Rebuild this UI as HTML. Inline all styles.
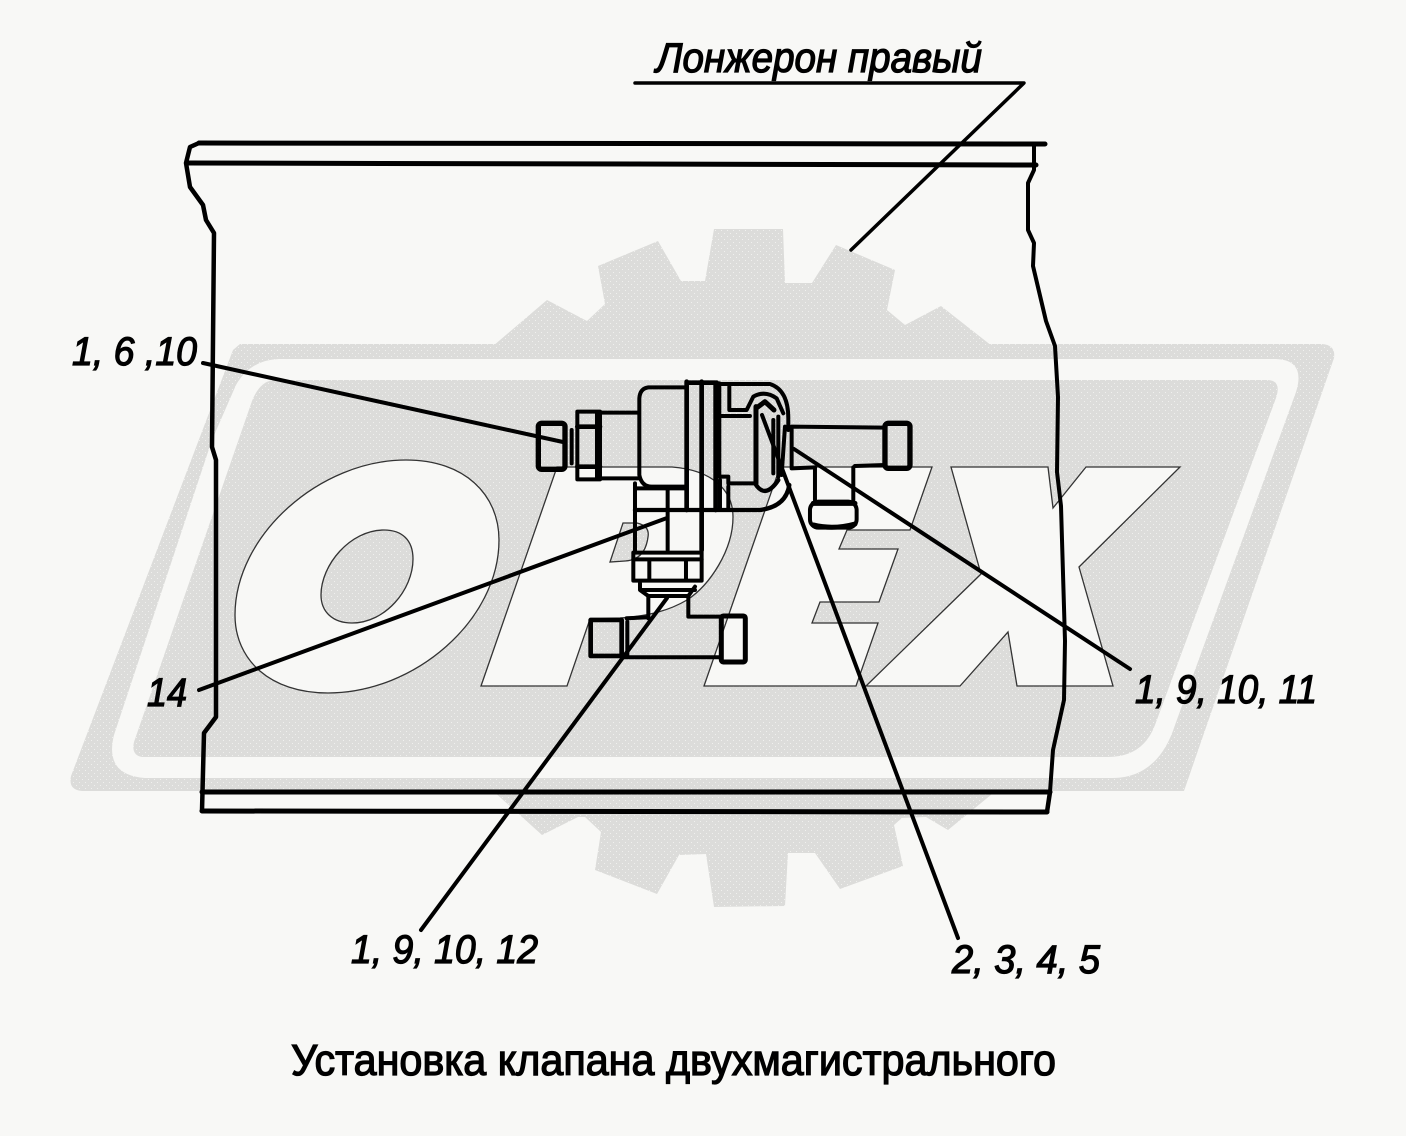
<!DOCTYPE html>
<html lang="ru"><head><meta charset="utf-8"><title>Установка клапана двухмагистрального</title>
<style>html,body{margin:0;padding:0;background:#f8f8f6}svg{display:block}
text{font-family:"Liberation Sans",sans-serif;fill:#000;stroke:#000;stroke-width:1.3}
.i{font-style:italic}</style></head><body>
<svg width="1406" height="1136" viewBox="0 0 1406 1136" xmlns="http://www.w3.org/2000/svg">
<defs><pattern id="d" width="6" height="6" patternUnits="userSpaceOnUse"><rect width="6" height="6" fill="#dcdcda"/><rect x="1" y="2" width="1" height="1" fill="#f0f0ee"/><rect x="4" y="5" width="1" height="1" fill="#f0f0ee"/></pattern></defs>
<rect width="1406" height="1136" fill="#f8f8f6"/>
<g fill="url(#d)">
<polygon points="493,346 547,300 587,321 605,304 598,266 658,241 681,281 705,281 714,229 783,229 785,283 812,283 836,245 895,270 887,310 905,325 941,306 992,346"/>
<polygon points="492,790 542,835 578,817 585,817 601,832 595,870 657,894 679,855 706,854 714,907 785,906 788,853 815,853 840,889 903,866 894,825 902,818 926,817 948,830 997,790"/>
<path d="M240,344 L1322,344 Q1336,345 1334,358 L1184,791 L82,791 Q68,790 71,776 L233,350 Z"/>
</g>
<path fill="#f8f8f6" d="M279,359 L1276,359 Q1306,360 1296,392 L1175,725 Q1158,778 1112,778 L145,778 Q104,775 114,735 L212,440 L236,385 Q250,360 279,359 Z"/>
<path fill="url(#d)" d="M274,380 L1267,380 Q1282,380 1276,398 L1155,725 Q1143,757 1108,757 L142,757 Q131,755 134,742 L252,401 Q260,381 274,380 Z"/>
<g fill="#f8f8f6" stroke="#333" stroke-width="1.3">
<path d="M235,615 C235,535 320,460 406,460 C465,460 499,495 499,540 C499,620 415,693 328,693 C270,693 235,660 235,615Z"/>
<path fill="url(#d)" d="M321,595 C321,565 350,530 384,530 C402,530 413,540 413,559 C413,590 385,623 352,623 C333,623 321,612 321,595Z"/>
<path d="M481,686 L557,467 L672,467 C712,470 733,490 733,517 C733,550 710,585 687,600 C670,610 650,616 620,618 L590,619 L567,686 Z"/>
<path fill="url(#d)" d="M623,523 L637,523 Q650,526 648,537 Q645,560 625,561 L610,562 Z"/>
<path d="M704,686 L780,467 L932,467 L910,530 L847,530 L839,549 L898,549 L879,602 L820,602 L812,623 L878,623 L856,686 Z"/>
<polygon points="951,467 1048,467 1053,508 1086,467 1180,467 1079,567 1113,686 1017,686 1008,632 960,686 866,686 981,574"/>
</g>
<g fill="none" stroke="#000" stroke-linejoin="round" stroke-linecap="round">
<path stroke-width="5" d="M199,143 L1045,144 M187,163 L1036,165 M202,792 L1050,792 M202,811 L1047,812"/>
<path stroke-width="4.5" d="M199,143 L190,147 L186,163 L190,187 L203,205 L206,220 L214,233 L212,447 L216,460 L216,717 L204,733 L202,811 M1047,812 L1050,792"/>
<path stroke-width="4" d="M1034,145 L1034,170 L1028,183 L1028,230 L1034,243 L1033,266 L1046,321 L1055,346 L1058,397 L1057,472 L1061,506 L1065,641 L1064,700 L1053,750 L1050,792"/>
<path stroke-width="3.5" d="M635,83 L1024,83 L851,250"/>
<path stroke-width="4" d="M203,363 L563,442 M199,690 L667,518 M421,930 L667,598 M958,938 L762,415 M1130,669 L794,449"/>
<g transform="translate(520,360) scale(.3333)" stroke-width="12">
<rect x="55" y="190" width="80" height="138" rx="10" stroke-width="16"/>
<path d="M155,210 V310"/>
<rect x="172" y="155" width="68" height="203" stroke-width="12"/>
<path d="M172,200 H240 M172,320 H240 M232,158 V355" stroke-width="14"/>
<path d="M240,158 H355 M240,355 H355"/>
<path d="M495,82 H385 Q360,85 358,115 V345 Q365,380 395,380 H495"/>
<path d="M500,65 V450 M545,65 V570 M587,68 V450 M500,68 H590" stroke-width="14"/>
<path d="M598,70 V160 M628,80 V150 M600,360 V445 M625,380 V445"/>
<path d="M590,72 H750 Q805,90 805,175 V210"/>
<path d="M598,168 H690 M598,168 V350 H625 V370 H700 M630,150 H680 L700,110 Q735,90 770,115 L790,160"/>
<path stroke-width="15" d="M708,140 V370 M708,145 L735,125 L762,150"/>
<path stroke-width="13" d="M705,370 Q735,420 775,360"/>
<path d="M775,170 V350 M760,180 V340 M795,200 L785,345"/>
<path d="M808,375 Q798,440 720,450 H345" stroke-width="13"/>
<path d="M815,200 L1095,203 M815,200 V325 M815,325 L885,322 M1005,318 L1095,315"/>
<rect x="1095" y="190" width="75" height="135" rx="10" stroke-width="16"/>
<path d="M885,322 V420 M1000,322 V420"/>
<rect x="870" y="425" width="140" height="78" rx="25"/>
<path stroke-width="15" d="M880,430 H1005 M880,495 Q940,510 1005,492"/>
<path d="M345,370 V575 M443,385 V570 M545,450 V575 M345,385 H495"/>
<rect x="340" y="578" width="205" height="84"/>
<path d="M340,598 H545 M388,598 V660 M498,598 V660"/>
<path d="M360,670 V690 L385,708 H505 L525,680 M365,690 H525"/>
<path d="M385,708 V775 M505,708 V770 H600"/>
<rect x="212" y="780" width="93" height="108" stroke-width="14"/>
<path d="M322,785 V888 M320,775 L385,772 M305,892 H600"/>
<rect x="604" y="768" width="72" height="138" rx="6" stroke-width="15"/>
</g>
</g>
<text class="i" x="656" y="72" font-size="42" textLength="326" lengthAdjust="spacingAndGlyphs">Лонжерон правый</text>
<text class="i" x="72" y="365" font-size="40" textLength="125" lengthAdjust="spacingAndGlyphs">1, 6 ,10</text>
<text class="i" x="147" y="706" font-size="40" textLength="40" lengthAdjust="spacingAndGlyphs">14</text>
<text class="i" x="1135" y="703" font-size="40" textLength="182" lengthAdjust="spacingAndGlyphs">1, 9, 10, 11</text>
<text class="i" x="351" y="963" font-size="40" textLength="187" lengthAdjust="spacingAndGlyphs">1, 9, 10, 12</text>
<text class="i" x="952" y="973" font-size="40" textLength="148" lengthAdjust="spacingAndGlyphs">2, 3, 4, 5</text>
<text x="291" y="1075" font-size="44" textLength="765" lengthAdjust="spacingAndGlyphs">Установка клапана двухмагистрального</text>
</svg>
</body></html>
